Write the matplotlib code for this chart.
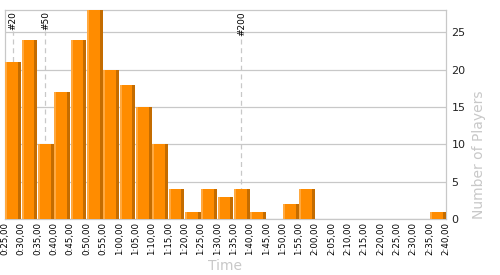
import numpy as np
import matplotlib
matplotlib.use("Agg")
import matplotlib.pyplot as plt

# bin edges (minutes) shown as tick labels
tick_labels = ["0:25,00", "0:30,00", "0:35,00", "0:40,00", "0:45,00", "0:50,00", "0:55,00",
               "1:00,00", "1:05,00", "1:10,00", "1:15,00", "1:20,00", "1:25,00", "1:30,00",
               "1:35,00", "1:40,00", "1:45,00", "1:50,00", "1:55,00", "2:00,00", "2:05,00",
               "2:10,00", "2:15,00", "2:20,00", "2:25,00", "2:30,00", "2:35,00", "2:40,00"]
players = [21, 24, 10, 17, 24, 28, 20, 18, 15, 10, 4, 1, 4, 3, 4, 1, 0, 2, 4,
           0, 0, 0, 0, 0, 0, 0, 1]
marker_names = ["#20", "#50", "#200"]
marker_bins = [0, 2, 14]

body = "#FF8C00"
light = "#FFA940"
dark = "#C46C00"
grid_c = "#C8C8C8"

fig = plt.figure(figsize=(5, 2.75), dpi=100)
ax = fig.add_axes([0.01, 1 - 219 / 275, 0.882, 209 / 275])

x = np.arange(len(players))
h = np.array(players)
w = 0.94
ax.bar(x + 0.03, h, width=w, align="edge", color=body, zorder=3, linewidth=0)
ax.bar(x + 0.03, h, width=0.12, align="edge", color=light, zorder=4, linewidth=0)
ax.bar(x + 0.03 + w - 0.18, h, width=0.18, align="edge", color=dark, zorder=4, linewidth=0)

# reference lines for player ranks
for name, b in zip(marker_names, marker_bins):
    ax.axvline(b + 0.47, ymin=0, ymax=0.9, color=grid_c, lw=0.9,
               linestyle=(0, (4, 3)), zorder=1)
    ax.text(b + 0.47, 27.8, name, rotation=90, ha="center", va="top",
            fontsize=6.5, color="black", zorder=5)

ax.set_xlim(0, len(players))
ax.set_ylim(0, 28)
ax.set_xticks(np.arange(len(tick_labels)))
ax.set_xticklabels(tick_labels, rotation=90, fontsize=6.2)
ax.set_yticks([0, 5, 10, 15, 20, 25])
ax.yaxis.tick_right()
ax.yaxis.set_label_position("right")
ax.tick_params(axis="both", length=0, pad=2)
ax.tick_params(axis="y", labelsize=8, colors="#222222", pad=4)
ax.tick_params(axis="x", colors="black")
ax.grid(axis="y", color=grid_c, lw=0.9, zorder=0)
for s in ax.spines.values():
    s.set_color(grid_c)
    s.set_linewidth(0.9)

ax.set_xlabel("Time", fontsize=10, color=grid_c, labelpad=3)
ax.set_ylabel("Number of Players", fontsize=10, color=grid_c, labelpad=8)
ax.yaxis.set_label_coords(1.075, 0.0)
ax.yaxis.label.set_verticalalignment("center")
ax.yaxis.label.set_horizontalalignment("left")

fig.savefig("out.png", dpi=100)
